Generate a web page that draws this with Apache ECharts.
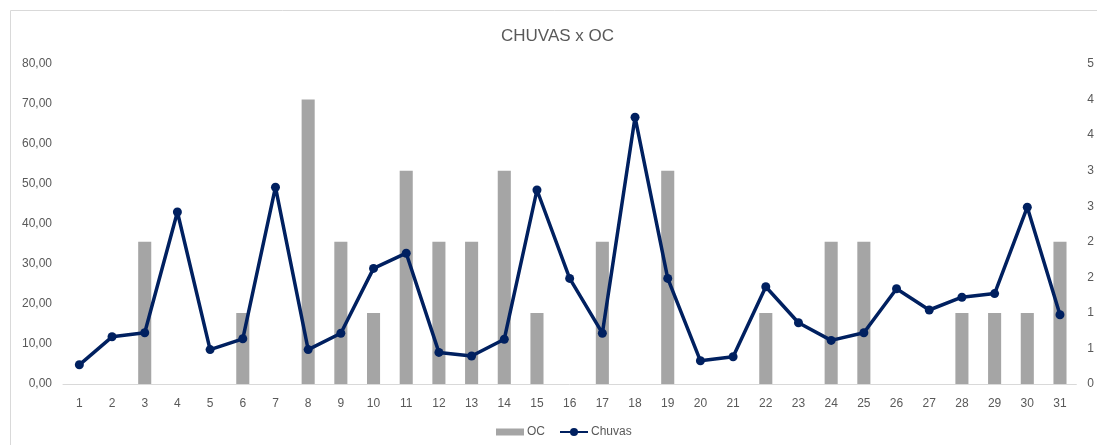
<!DOCTYPE html>
<html>
<head>
<meta charset="utf-8">
<script src="https://cdn.jsdelivr.net/npm/echarts@6/dist/echarts.min.js"></script>
<style>
  html, body { margin: 0; padding: 0; background: #fff; }
  #main { width: 1097px; height: 445px; }
</style>
</head>
<body>
<div id="main"></div>
<script>
// dias do mes
var dias = [];
for (var d = 1; d <= 31; d++) dias.push(String(d));

// ocorrencias (eixo direito)
var oc = [0, 0, 2, 0, 0, 1, 0, 4, 2, 1, 3, 2, 2, 3, 1, 0, 2, 0, 3, 0, 0, 1, 0, 2, 2, 0, 0, 1, 1, 1, 2];

// chuvas (eixo esquerdo)
var chuvas = [4.8, 11.8, 12.8, 43.0, 8.6, 11.3, 49.2, 8.6, 12.7, 28.9, 32.7, 7.9, 7.0, 11.2, 48.5,
  26.4, 12.7, 66.7, 26.4, 5.8, 6.8, 24.3, 15.3, 10.9, 12.8, 23.8, 18.5, 21.7, 22.6, 44.2, 17.3];

var txt = '#595959';
var fonte = 'Liberation Sans';

var myChart = echarts.init(document.getElementById('main'));
var option = {
    animation: false,
    textStyle: { fontFamily: fonte },
    graphic: [{
        type: 'rect',
        shape: { x: 10.5, y: 10.5, width: 1200, height: 600 },
        style: { fill: 'none', stroke: '#D9D9D9', lineWidth: 1 },
        silent: true
    }],
    title: {
        text: 'CHUVAS x OC',
        left: 501,
        top: 28,
        padding: 0,
        textStyle: { color: txt, fontSize: 17, fontWeight: 'normal', fontFamily: fonte }
    },
    legend: {
        bottom: 7,
        left: 496,
        padding: 0,
        itemGap: 14,
        itemWidth: 28,
        itemHeight: 10,
        textStyle: { color: txt, fontSize: 12, fontFamily: fonte, padding: [0, 0, 0, -2] },
        data: [
            { name: 'OC', icon: 'path://M0,0H28V7H0Z' },
            { name: 'Chuvas' }
        ]
    },
    grid: { left: 63, right: 20, top: 64, bottom: 61 },
    xAxis: {
        type: 'category',
        data: dias,
        axisTick: { show: false },
        axisLine: { lineStyle: { color: '#D9D9D9', width: 1 } },
        axisLabel: { color: txt, fontSize: 12, margin: 14 }
    },
    yAxis: [{
        type: 'value',
        min: 0,
        max: 80,
        interval: 10,
        splitLine: { show: false },
        axisLine: { show: false },
        axisLabel: {
            color: txt, fontSize: 12, margin: 11,
            formatter: function (v) { return v.toFixed(2).replace('.', ','); }
        }
    }, {
        type: 'value',
        min: 0,
        max: 4.5,
        interval: 0.5,
        splitLine: { show: false },
        axisLine: { show: false },
        axisLabel: {
            color: txt, fontSize: 12, margin: 11,
            formatter: function (v) { return String(Math.round(v)); }
        }
    }],
    series: [{
        name: 'OC',
        type: 'bar',
        yAxisIndex: 1,
        data: oc,
        barWidth: '40%',
        itemStyle: { color: '#A5A5A5' }
    }, {
        name: 'Chuvas',
        type: 'line',
        yAxisIndex: 0,
        data: chuvas,
        symbol: 'circle',
        symbolSize: 9,
        lineStyle: { color: '#002060', width: 3.5 },
        itemStyle: { color: '#002060' }
    }]
};
myChart.setOption(option);
</script>
</body>
</html>
